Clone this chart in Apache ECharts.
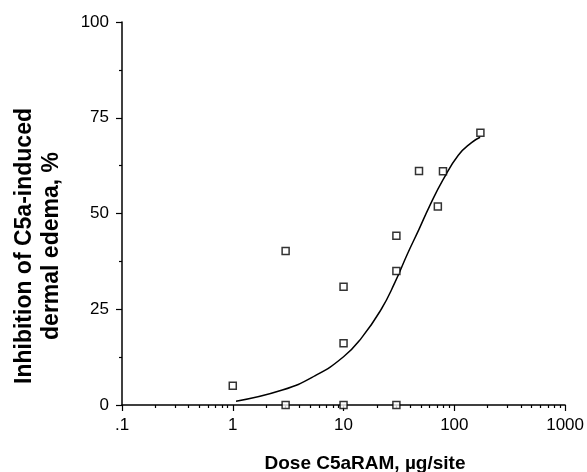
<!DOCTYPE html>
<html>
<head>
<meta charset="utf-8">
<script src="https://cdn.jsdelivr.net/npm/echarts@6/dist/echarts.min.js"></script>
<style>
html,body{margin:0;padding:0;background:#fff;}
#chart{width:587px;height:472px;}
</style>
</head>
<body>
<div id="chart"></div>
<script>
// Observed data (dose in µg/site, inhibition %)
const pointDose = [1, 3, 3, 10, 10, 10, 30, 30, 30, 48, 79, 71, 172];
const pointInhib = [5, 40.2, 0, 30.9, 16.1, 0, 44.2, 35, 0, 61.1, 61, 51.8, 71.1];
// Fitted curve
const curveDose = [1.07, 2.8, 5.5, 10, 14.6, 21.9, 29.1, 37.8, 48.2, 59.5, 78.7, 108.6, 143, 171];
const curveInhib = [1.0, 3.9, 7.6, 12.6, 17.6, 25.0, 32.0, 39.5, 46.0, 51.8, 58.7, 65.2, 68.5, 69.9];
// Axis labels / ticks
const xMajorTicks = [0.1, 1, 10, 100, 1000];
const xMinorTicks = [0.2,0.3,0.4,0.5,0.6,0.7,0.8,0.9,2,3,4,5,6,7,8,9,20,30,40,50,60,70,80,90,200,300,400,500,600,700,800,900];
const yTitleLines = ['Inhibition of C5a-induced', 'dermal edema, %'];
const xTitle = 'Dose C5aRAM, \u00b5g/site';

const chart = echarts.init(document.getElementById('chart'), null, {renderer: 'canvas'});
const font = 'Liberation Sans, Arial, Helvetica, sans-serif';

const option = {
  animation: false,
  backgroundColor: '#fff',
  grid: {left: 122, right: 20, top: 22, bottom: 67, containLabel: false},
  xAxis: [{
    type: 'log', logBase: 10, min: 0.1, max: 1000,
    axisLine: {show: true, onZero: false, lineStyle: {color: '#000', width: 1.5}},
    axisTick: {show: true, length: 6, lineStyle: {color: '#000', width: 1.2}},
    splitLine: {show: false},
    axisLabel: {
      color: '#000', fontSize: 17, fontFamily: font, margin: 12,
      formatter: v => (v < 1 ? '.1' : String(Math.round(v)))
    }
  }, {
    type: 'log', logBase: 10, min: 0.1, max: 1000, position: 'bottom',
    axisLine: {show: false},
    axisTick: {show: true, length: 3, customValues: xMinorTicks, lineStyle: {color: '#000', width: 1.2}},
    axisLabel: {show: false},
    splitLine: {show: false}
  }],
  yAxis: {
    type: 'value', min: 0, max: 100, interval: 25,
    axisLine: {show: true, lineStyle: {color: '#000', width: 1.5}},
    axisTick: {show: true, length: 6, lineStyle: {color: '#000', width: 1.2}},
    minorTick: {show: true, splitNumber: 2, length: 3, lineStyle: {color: '#000', width: 1.2}},
    splitLine: {show: false},
    axisLabel: {color: '#000', fontSize: 17, fontFamily: font, margin: 13}
  },
  graphic: [{
    type: 'text', x: 38, y: 246, rotation: Math.PI / 2,
    style: {
      text: yTitleLines.join('\n'), fill: '#000', font: 'bold 23px ' + font,
      align: 'center', verticalAlign: 'middle', lineHeight: 27
    }
  }, {
    type: 'text', x: 365, y: 464,
    style: {
      text: xTitle, fill: '#000', font: 'bold 19px ' + font,
      align: 'center', verticalAlign: 'middle'
    }
  }],
  series: [{
    type: 'line', xAxisIndex: 0,
    data: curveDose.map((d, i) => [d, curveInhib[i]]),
    smooth: 0.5, showSymbol: false, symbol: 'none',
    lineStyle: {color: '#000', width: 1.5}, z: 2
  }, {
    type: 'scatter', xAxisIndex: 0,
    data: pointDose.map((d, i) => [d, pointInhib[i]]),
    symbol: 'rect', symbolSize: 7,
    itemStyle: {color: '#fff', borderColor: '#000', borderWidth: 1.5}, z: 3
  }]
};
chart.setOption(option);
</script>
</body>
</html>
